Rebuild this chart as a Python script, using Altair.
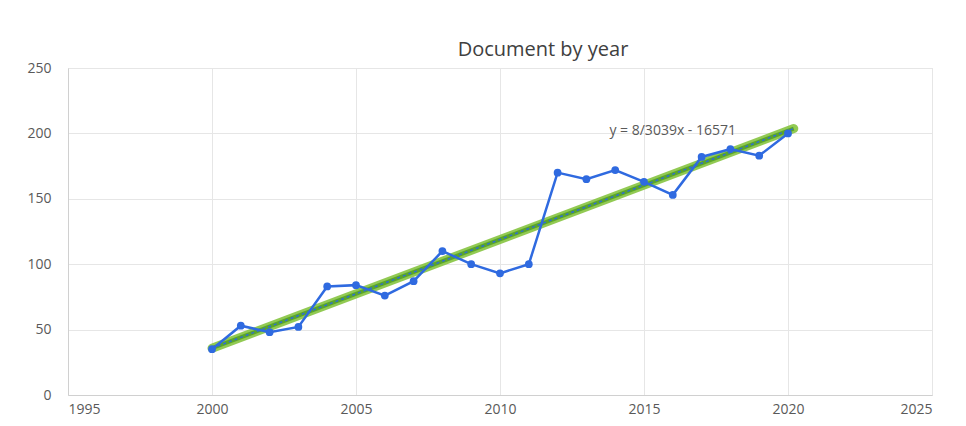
import altair as alt
import pandas as pd

years = list(range(2000, 2021))
docs = [35, 53, 48, 52, 83, 84, 76, 87, 110, 100, 93, 100, 170, 165, 172, 163, 153, 182, 188, 183, 200]

title_text = "Document by year"
eq_label = ["y = 8/3039x - 16571"]
eq_x = [2013.8]
eq_y = [202]

df = pd.DataFrame({"year": years, "docs": docs})
lab = pd.DataFrame({"x": eq_x, "y": eq_y, "t": eq_label})

FONT = "Open Sans"
GRAY = "#595959"

xs = alt.Scale(domain=[1995, 2025], nice=False, zero=False)
ys = alt.Scale(domain=[0, 250], nice=False)

x_axis = alt.Axis(values=[1995, 2000, 2005, 2010, 2015, 2020, 2025], format="d", title=None,
                  grid=True, gridColor="#e6e6e6", domainColor="#d0d0d0", ticks=False,
                  labelColor=GRAY, labelFont=FONT, labelFontSize=14, labelPadding=7)
y_axis = alt.Axis(values=[0, 50, 100, 150, 200, 250], title=None, grid=True, gridColor="#e6e6e6",
                  domainColor="#d0d0d0", ticks=False, labelColor=GRAY, labelFont=FONT,
                  labelFontSize=14, labelPadding=17)

base = alt.Chart(df)

trend_data = base.transform_regression("year", "docs", method="linear", extent=[2000, 2020.2])

trend_glow = trend_data.mark_line(color="#86c440", strokeWidth=9, opacity=0.9, strokeCap="round").encode(
    x=alt.X("year:Q", scale=xs, axis=x_axis),
    y=alt.Y("docs:Q", scale=ys, axis=y_axis),
)
trend_core = trend_data.mark_line(color="#5aa52a", strokeWidth=4).encode(
    x=alt.X("year:Q", scale=xs), y=alt.Y("docs:Q", scale=ys)
)
trend_dash = trend_data.mark_line(color="#2f6fd0", strokeWidth=1.5, strokeDash=[3, 3]).encode(
    x=alt.X("year:Q", scale=xs), y=alt.Y("docs:Q", scale=ys)
)

line = base.mark_line(color="#2f6ae0", strokeWidth=2.5).encode(
    x=alt.X("year:Q", scale=xs), y=alt.Y("docs:Q", scale=ys)
)
pts = base.mark_circle(color="#2f6ae0", size=60, opacity=1).encode(
    x=alt.X("year:Q", scale=xs), y=alt.Y("docs:Q", scale=ys)
)

label = alt.Chart(lab).mark_text(align="left", baseline="middle", font=FONT, fontSize=14, color=GRAY).encode(
    x=alt.X("x:Q", scale=xs), y=alt.Y("y:Q", scale=ys), text="t:N"
)

chart = alt.layer(trend_glow, trend_core, trend_dash, line, pts, label).properties(
    width=864,
    height=327,
    title=alt.TitleParams(title_text, font=FONT, fontSize=20, fontWeight="normal", color="#404040",
                          anchor="middle", dx=43, offset=1),
    autosize=alt.AutoSizeParams(type="none"),
    padding={"left": 60, "top": 60, "right": 26, "bottom": 23},
).configure_view(stroke=None).configure(background="white")

chart.save("out.html", embed_options={"renderer": "svg", "actions": False})
